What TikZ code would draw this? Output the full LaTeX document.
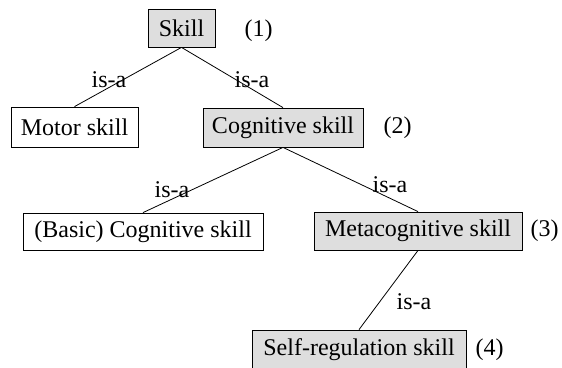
\documentclass[tikz,border=0pt]{standalone}
\usepackage{fontspec}
\setmainfont{Liberation Serif}
\begin{document}
\begin{tikzpicture}[x=1pt,y=-1pt,
  every node/.style={font=\fontsize{24}{28}\selectfont, inner sep=0pt},
  box/.style={draw=black, line width=0.8pt, minimum width=#1, align=center},
  plain/.style={box=#1, fill=white},
  shaded/.style={box=#1, fill=black!13},
  link/.style={draw=black, line width=0.8pt},
  rel/.style={anchor=base}]
\useasboundingbox[fill=white] (0,0) rectangle (562,367);
\node[shaded=67pt, minimum height=38pt] (skill) at (181.5,28) {Skill};
\node[plain=127pt, minimum height=40pt] (motor) at (74.5,127) {Motor skill};
\node[shaded=160pt, minimum height=39pt] (cog) at (283,127.5) {Cognitive skill};
\node[plain=240pt, minimum height=37pt] (basic) at (143,231.5) {(Basic) Cognitive skill};
\node[shaded=208pt, minimum height=38pt] (meta) at (418,231) {Metacognitive skill};
\node[shaded=214pt, minimum height=40pt] (self) at (359,350) {Self-regulation skill};

\draw[link] (skill.south) -- (motor.north);
\draw[link] (skill.south) -- (cog.north);
\draw[link] (cog.south) -- (basic.north);
\draw[link] (cog.south) -- (meta.north);
\draw[link] (meta.south) -- (self.north);

\node[rel] (r1) at (109,87) {is-a};
\node[rel] (r2) at (252,87) {is-a};
\node[rel] (r3) at (172,197) {is-a};
\node[rel] (r4) at (390,192) {is-a};
\node[rel] (r5) at (414,309) {is-a};

\node[anchor=base west] (n1) at ([xshift=29pt]skill.base east) {(1)};
\node[anchor=base west] (n2) at ([xshift=20pt]cog.base east) {(2)};
\node[anchor=base west] (n3) at ([xshift=8pt]meta.base east) {(3)};
\node[anchor=base west] (n4) at ([xshift=9pt]self.base east) {(4)};
\end{tikzpicture}
\end{document}
